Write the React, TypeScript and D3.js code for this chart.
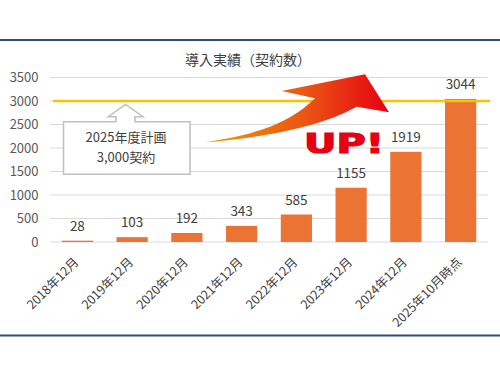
import React from "react";
import * as d3 from "d3";

const categories = [
  "2018年12月",
  "2019年12月",
  "2020年12月",
  "2021年12月",
  "2022年12月",
  "2023年12月",
  "2024年12月",
  "2025年10月時点",
];
const values = [28, 103, 192, 343, 585, 1155, 1919, 3044];
const yTicks = [0, 500, 1000, 1500, 2000, 2500, 3000, 3500];
const targetValue = 3000;
const title = "導入実績（契約数）";
const calloutLines = ["2025年度計画", "3,000契約"];

const FONT = "'Noto Sans CJK JP', 'Noto Sans', sans-serif";

export default function App() {
  const W = 500;
  const H = 375;
  const x = d3.scaleBand<string>().domain(categories).range([50, 488]).paddingInner(0.43).paddingOuter(0.215);
  const y = d3.scaleLinear().domain([0, 3500]).range([242, 77.5]);
  const bw = x.bandwidth();

  return (
    <svg width={W} height={H} style={{ position: "absolute", left: 0, top: 0, background: "#fff" }}>
      <defs>
        <linearGradient id="upGrad" x1="205" y1="0" x2="389" y2="0" gradientUnits="userSpaceOnUse">
          <stop offset="0" stopColor="#F39800" />
          <stop offset="0.55" stopColor="#EA5514" />
          <stop offset="1" stopColor="#E60012" />
        </linearGradient>
      </defs>
      <rect x={0} y={0} width={W} height={H} fill="#fff" />
      {/* frame lines */}
      <line x1={0} x2={W} y1={40} y2={40} stroke="#2F4D84" strokeWidth={2} />
      <line x1={0} x2={W} y1={335.5} y2={335.5} stroke="#2F4D84" strokeWidth={2} />

      {/* title */}
      <text x={248} y={65} textAnchor="middle" fontFamily={FONT} fontSize={14} fill="#404040">
        {title}
      </text>

      {/* gridlines + y labels */}
      {yTicks.map((t) => (
        <g key={t}>
          <line x1={50} x2={488} y1={y(t)} y2={y(t)} stroke="#D9D9D9" strokeWidth={1} />
          <text x={38.5} y={y(t)} dy="0.36em" textAnchor="end" fontFamily={FONT} fontSize={13} fill="#595959">
            {t}
          </text>
        </g>
      ))}

      {/* bars */}
      {values.map((v, i) => (
        <rect
          key={categories[i]}
          x={x(categories[i])!}
          y={y(v)}
          width={bw}
          height={y(0) - y(v)}
          fill="#EB7434"
        />
      ))}

      {/* data labels */}
      {values.map((v, i) => (
        <text
          key={"l" + i}
          x={x(categories[i])! + bw / 2}
          y={y(v) - 10}
          textAnchor="middle"
          fontFamily={FONT}
          fontSize={13.5}
          fill="#404040"
        >
          {v}
        </text>
      ))}

      {/* x labels */}
      {categories.map((c) => (
        <text
          key={"x" + c}
          transform={`translate(${x(c)! + bw / 2 + 2},${263}) rotate(-45)`}
          textAnchor="end"
          fontFamily={FONT}
          fontSize={12.5}
          fill="#404040"
        >
          {c}
        </text>
      ))}

      {/* target line */}
      <line x1={53} x2={490} y1={y(targetValue)} y2={y(targetValue)} stroke="#FFC000" strokeWidth={2.5} />

      {/* callout */}
      <path
        d="M63.5,121.7 L116,121.7 L116,116.7 L108.3,116.7 L125.5,104.5 L143,116.7 L135,116.7 L135,121.7 L190,121.7 L190,174.3 L63.5,174.3 Z"
        fill="#fff"
        stroke="#BFBFBF"
        strokeWidth={1.5}
      />
      {calloutLines.map((s, i) => (
        <text
          key={s}
          x={126}
          y={137 + i * 20}
          dy="0.36em"
          textAnchor="middle"
          fontFamily={FONT}
          fontSize={13}
          fill="#404040"
        >
          {s}
        </text>
      ))}

      {/* big UP arrow */}
      <path
        d="M205,142.3 C245,136 285,128 315,98.3 L281.7,91 L365,74.3 L389,112.3 L356.7,106.7 C325,125 265,138 205,142.3 Z"
        fill="url(#upGrad)"
      />
      <text
        x={304}
        y={153.3}
        textLength={80}
        lengthAdjust="spacingAndGlyphs"
        fontFamily="'DejaVu Sans', sans-serif"
        fontWeight={900}
        fontSize={26}
        fill="#E60012"
        stroke="#E60012"
        strokeWidth={1.2}
      >
        UP!
      </text>
    </svg>
  );
}
